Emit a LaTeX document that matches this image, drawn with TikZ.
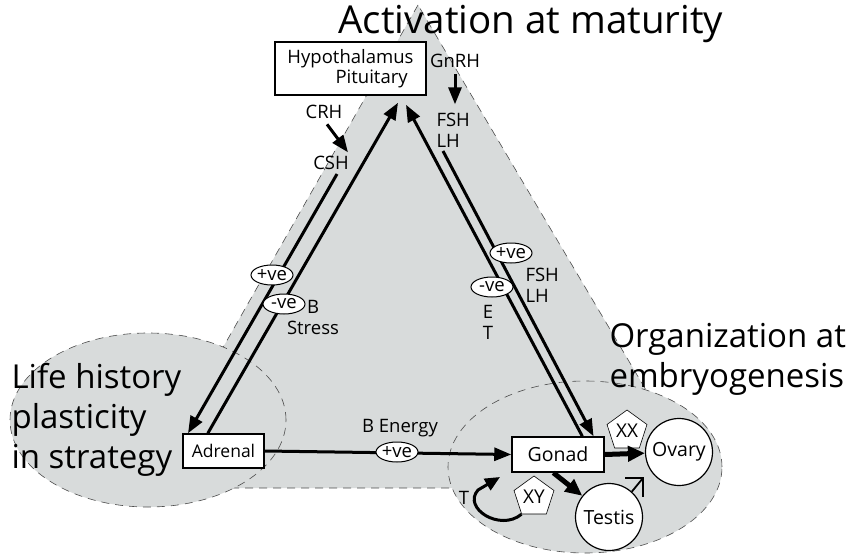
\documentclass[tikz,border=0pt]{standalone}
\usepackage{fontspec}
\setmainfont{Open Sans}
\usetikzlibrary{arrows.meta,shapes.geometric,calc}
\definecolor{zone}{RGB}{216,219,219}

\begin{document}
\begin{tikzpicture}[x=1pt,y=-1pt,
    box/.style={draw,fill=white,line width=1.5pt,inner sep=2pt,font=\fontsize{18.5}{20}\selectfont},
    organ/.style={draw,circle,fill=white,line width=1.2pt,minimum size=67pt,inner sep=0pt,font=\fontsize{19.5}{20}\selectfont},
    sign/.style={draw,ellipse,fill=white,line width=1pt,inner xsep=-4pt,inner ysep=-1pt,minimum width=42pt,minimum height=20pt,font=\fontsize{18.5}{18}\selectfont},
    pent/.style={draw,regular polygon,regular polygon sides=5,fill=white,line width=0.6pt,minimum size=42pt,inner sep=0pt,font=\fontsize{19}{19}\selectfont},
    lbl/.style={font=\fontsize{18.5}{21}\selectfont},
    big/.style={font=\fontsize{33}{40}\selectfont,align=left},
    fb/.style={line width=3pt,-{Triangle[length=17pt,width=13pt]}},
    fat/.style={line width=5pt,-{Triangle[length=17pt,width=15pt]}},
    zoneline/.style={dashed,dash pattern=on 8pt off 6pt,line width=0.6pt,black!70}]
    \useasboundingbox (0,0) rectangle (854,557);

    % shaded zones
    \fill[zone] (418,5) -- (143,488) -- (704,488) -- cycle;
    \fill[zone] (148,420) ellipse [x radius=138pt, y radius=87pt];
    \fill[zone] (585,467) ellipse [x radius=137pt, y radius=86pt];
    \begin{scope}[even odd rule]
     \clip (0,0) rectangle (854,557)
        (148,420) ellipse [x radius=138pt, y radius=87pt]
        (585,467) ellipse [x radius=137pt, y radius=86pt];
     \draw[zoneline] (418,5) -- (143,488) -- (704,488) -- cycle;
    \end{scope}
    \draw[zoneline] (148,420) ellipse [x radius=138pt, y radius=87pt];
    \draw[zoneline] (585,467) ellipse [x radius=137pt, y radius=86pt];

    % titles
    \node[big,font=\fontsize{38.5}{44}\selectfont] (act) at (531,24) {Activation at maturity};
    \node[big,anchor=west] (org) at (606,359) {Organization at\\embryogenesis};
    \node[big,anchor=west] (life) at (8,420) {Life history\\plasticity\\in strategy};

    % organs
    \node[box,align=left,minimum width=151pt,minimum height=53pt] (hp) at (350.5,68.5) {Hypothalamus\\\hspace*{2.6em}Pituitary};
    \node[box,font=\fontsize{17.5}{19}\selectfont,minimum width=81pt,minimum height=34pt] (ad) at (223.5,451) {Adrenal};
    \node[box,font=\fontsize{19.5}{20}\selectfont,minimum width=92pt,minimum height=35pt] (go) at (558,454.5) {Gonad};
    \node[organ] (ov) at (679,452) {Ovary};
    \node[organ] (te) at (609,517) {Testis};
    \node[pent] (xx) at (627,431) {XX};
    \node[pent] (xy) at (534,497) {XY};

    % hormone labels
    \node[lbl] (crh) at (324,112) {CRH};
    \node[lbl] (csh) at (331,163) {CSH};
    \node[lbl] (gnrh) at (455,61) {GnRH};
    \node[lbl,anchor=west,align=left] (fsh) at (433,130) {FSH\\LH};
    \node[lbl,anchor=west,align=left] (fsh2) at (522,285) {FSH\\LH};
    \node[lbl,align=center] (et) at (488,322) {E\\T};
    \node[lbl,align=center] (bs) at (313,317) {B\\Stress};
    \node[lbl] (ben) at (400,428) {B Energy};
    \node[lbl] (tl) at (464,498) {T};

    % end points of the feedback lines
    \coordinate (a1) at ($(ad.north west)!0.07!(ad.north east)$);
    \coordinate (a2) at ($(ad.north west)!0.31!(ad.north east)$);
    \coordinate (c1) at (337,174);
    \coordinate (h1) at ($(hp.south)+(47.5,7)$);
    \coordinate (h2) at ($(hp.south)+(55.5,9)$);
    \coordinate (l1) at (443,151);
    \coordinate (g1) at ($(go.north west)!0.76!(go.north east)$);
    \coordinate (g2) at ($(go.north west)!0.88!(go.north east)$);
    \coordinate (g3) at ($(go.south west)!0.45!(go.south east)$);

    \draw[fb] (c1) -- (a1);
    \draw[fb] (a2) -- (h1);
    \draw[fb] (g1) -- (h2);
    \draw[fb] (l1) -- (g2);
    \draw[fb] (crh.south) ++(3,2) -- ++(21,28);
    \draw[fb] (gnrh.south) ++(0,3) -- ++(0,30);
    \draw[fb] (ad.east) -- (go.west);
    \draw[fat] (go.east) -- (ov);
    \draw[fat] (g3) -- (te);
    \draw[line width=3pt,-{Triangle[length=15pt,width=13pt]}] (xy.corner 3)
        .. controls (500,532) and (462,508) .. (478,490) -- (500,477);

    % signs on the lines
    \node[sign] (p1) at (272,275) {+ve};
    \node[sign] (n1) at (284,304) {-ve};
    \node[sign] (p2) at (511,253) {+ve};
    \node[sign] (n2) at (492,287) {-ve};
    \node[sign] (p3) at (397,452) {+ve};

    % male mark
    \coordinate (m1) at (643,478);
    \draw[line width=1.8pt] (te.48) -- (m1);
    \draw[line width=1.8pt] (625,478) -- (m1) -- (643,497);
\end{tikzpicture}
\end{document}
